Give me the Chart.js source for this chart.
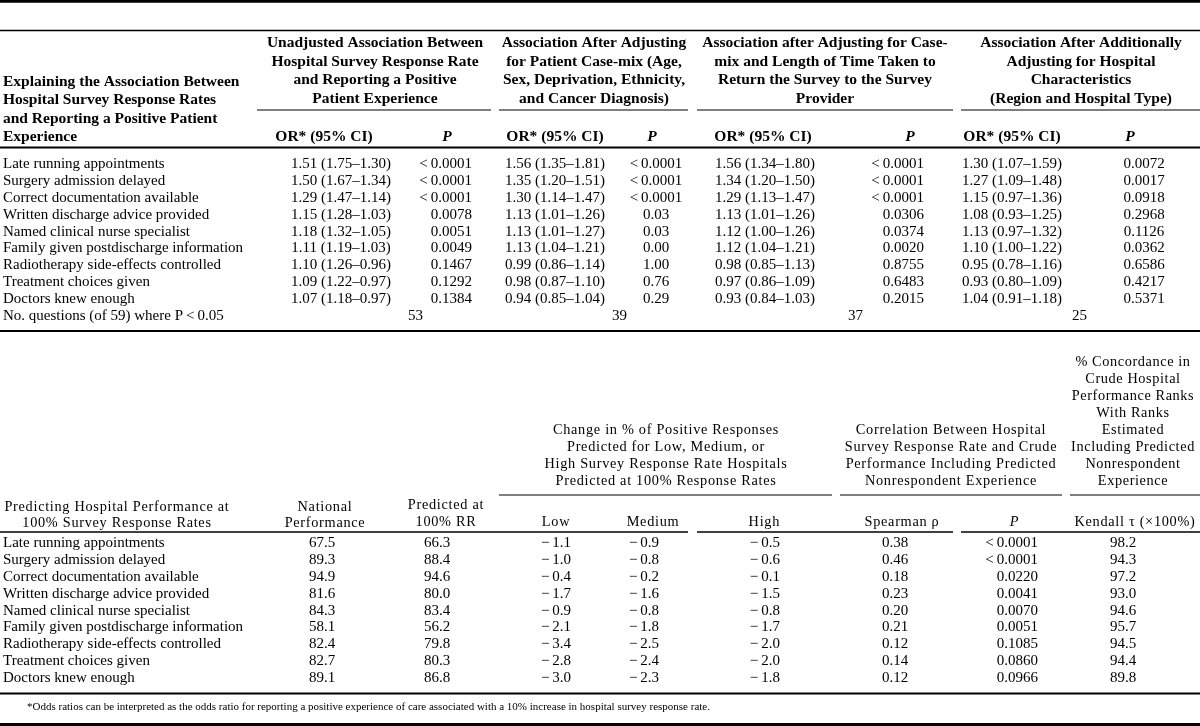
<!DOCTYPE html>
<html lang="en">
<head>
  <meta charset="UTF-8">
  <title>Hospital Survey Response Rates and Patient Experience</title>
  <style>
    body {
      margin: 0;
      background: #fff;
    }
    #table-container {
      width: 1200px;
      height: 726px;
    }
  </style>
</head>
<body>

<div id="table-container">
  <canvas id="tableChart" width="1200" height="726"></canvas>
</div>

<script src="https://cdn.jsdelivr.net/npm/chart.js@4"></script>
<script>
  // ---- top table: explaining the association ----
  const questions = [
    'Late running appointments',
    'Surgery admission delayed',
    'Correct documentation available',
    'Written discharge advice provided',
    'Named clinical nurse specialist',
    'Family given postdischarge information',
    'Radiotherapy side-effects controlled',
    'Treatment choices given',
    'Doctors knew enough'
  ];
  const orUnadjusted = ['1.51 (1.75–1.30)', '1.50 (1.67–1.34)', '1.29 (1.47–1.14)', '1.15 (1.28–1.03)', '1.18 (1.32–1.05)', '1.11 (1.19–1.03)', '1.10 (1.26–0.96)', '1.09 (1.22–0.97)', '1.07 (1.18–0.97)'];
  const pUnadjusted = ['<0.0001', '<0.0001', '<0.0001', '0.0078', '0.0051', '0.0049', '0.1467', '0.1292', '0.1384'];
  const orCaseMix = ['1.56 (1.35–1.81)', '1.35 (1.20–1.51)', '1.30 (1.14–1.47)', '1.13 (1.01–1.26)', '1.13 (1.01–1.27)', '1.13 (1.04–1.21)', '0.99 (0.86–1.14)', '0.98 (0.87–1.10)', '0.94 (0.85–1.04)'];
  const pCaseMix = ['<0.0001', '<0.0001', '<0.0001', '0.03', '0.03', '0.00', '1.00', '0.76', '0.29'];
  const orReturnTime = ['1.56 (1.34–1.80)', '1.34 (1.20–1.50)', '1.29 (1.13–1.47)', '1.13 (1.01–1.26)', '1.12 (1.00–1.26)', '1.12 (1.04–1.21)', '0.98 (0.85–1.13)', '0.97 (0.86–1.09)', '0.93 (0.84–1.03)'];
  const pReturnTime = ['<0.0001', '<0.0001', '<0.0001', '0.0306', '0.0374', '0.0020', '0.8755', '0.6483', '0.2015'];
  const orHospital = ['1.30 (1.07–1.59)', '1.27 (1.09–1.48)', '1.15 (0.97–1.36)', '1.08 (0.93–1.25)', '1.13 (0.97–1.32)', '1.10 (1.00–1.22)', '0.95 (0.78–1.16)', '0.93 (0.80–1.09)', '1.04 (0.91–1.18)'];
  const pHospital = ['0.0072', '0.0017', '0.0918', '0.2968', '0.1126', '0.0362', '0.6586', '0.4217', '0.5371'];
  const significantCounts = [53, 39, 37, 25];

  // ---- bottom table: predicting performance at 100% response ----
  const nationalPerf = [67.5, 89.3, 94.9, 81.6, 84.3, 58.1, 82.4, 82.7, 89.1];
  const predictedPerf = [66.3, 88.4, 94.6, 80.0, 83.4, 56.2, 79.8, 80.3, 86.8];
  const changeLow = [-1.1, -1.0, -0.4, -1.7, -0.9, -2.1, -3.4, -2.8, -3.0];
  const changeMedium = [-0.9, -0.8, -0.2, -1.6, -0.8, -1.8, -2.5, -2.4, -2.3];
  const changeHigh = [-0.5, -0.6, -0.1, -1.5, -0.8, -1.7, -2.0, -2.0, -1.8];
  const spearmanRho = [0.38, 0.46, 0.18, 0.23, 0.20, 0.21, 0.12, 0.14, 0.12];
  const spearmanP = ['<0.0001', '<0.0001', '0.0220', '0.0041', '0.0070', '0.0051', '0.1085', '0.0860', '0.0966'];
  const kendallTau = [98.2, 94.3, 97.2, 93.0, 94.6, 95.7, 94.5, 94.4, 89.8];

  // ---- layout (all in canvas-pixel units on the hidden linear scales) ----
  const SERIF = '"Liberation Serif", "Times New Roman", serif';
  const BODY = '15px ' + SERIF;
  const BOLD = 'bold 15.5px ' + SERIF;
  const LIGHT = '14.3px ' + SERIF;
  const topRowY = i => 164 + 16.9 * i;
  const bottomRowY = i => 543 + 16.9 * i;

  const fmt1 = v => (v < 0 ? '−\u2009' : '') + Math.abs(v).toFixed(1);
  const fmt2 = v => v.toFixed(2);
  const fmtP = s => s.replace('<', '<\u2009');

  const columns = [
    { text: questions, x: 3, align: 'left', row: topRowY },
    { text: orUnadjusted, x: 341, align: 'center', row: topRowY },
    { text: pUnadjusted.map(fmtP), x: 472, align: 'right', row: topRowY },
    { text: orCaseMix, x: 555, align: 'center', row: topRowY },
    { text: pCaseMix.map(fmtP), x: 656, align: 'center', row: topRowY },
    { text: orReturnTime, x: 765, align: 'center', row: topRowY },
    { text: pReturnTime.map(fmtP), x: 924, align: 'right', row: topRowY },
    { text: orHospital, x: 1012, align: 'center', row: topRowY },
    { text: pHospital, x: 1144, align: 'center', row: topRowY },
    { text: questions, x: 3, align: 'left', row: bottomRowY },
    { text: nationalPerf.map(fmt1), x: 322, align: 'center', row: bottomRowY },
    { text: predictedPerf.map(fmt1), x: 437, align: 'center', row: bottomRowY },
    { text: changeLow.map(fmt1), x: 556, align: 'center', row: bottomRowY },
    { text: changeMedium.map(fmt1), x: 644, align: 'center', row: bottomRowY },
    { text: changeHigh.map(fmt1), x: 780, align: 'right', row: bottomRowY },
    { text: spearmanRho.map(fmt2), x: 895, align: 'center', row: bottomRowY },
    { text: spearmanP.map(fmtP), x: 1038, align: 'right', row: bottomRowY },
    { text: kendallTau.map(fmt1), x: 1123, align: 'center', row: bottomRowY }
  ];
  const countX = [408, 612, 848, 1072];

  const block = (lines, x, y0, step, font, align, spacing) =>
    lines.map((t, i) => ({ t, x, y: y0 + step * i, font, align: align || 'center', spacing: spacing || 0 }));

  const headers = [
    ...block(['Explaining the Association Between', 'Hospital Survey Response Rates', 'and Reporting a Positive Patient', 'Experience'], 3, 82, 18.3, BOLD, 'left'),
    ...block(['Unadjusted Association Between', 'Hospital Survey Response Rate', 'and Reporting a Positive', 'Patient Experience'], 375, 43, 18.6, BOLD),
    ...block(['Association After Adjusting', 'for Patient Case-mix (Age,', 'Sex, Deprivation, Ethnicity,', 'and Cancer Diagnosis)'], 594, 43, 18.6, BOLD),
    ...block(['Association after Adjusting for Case-', 'mix and Length of Time Taken to', 'Return the Survey to the Survey', 'Provider'], 825, 43, 18.6, BOLD),
    ...block(['Association After Additionally', 'Adjusting for Hospital', 'Characteristics', '(Region and Hospital Type)'], 1081, 43, 18.6, BOLD),
    ...[324, 555, 763, 1012].map(x => ({ t: 'OR* (95% CI)', x, y: 137, font: BOLD, align: 'center', spacing: 0 })),
    ...[447, 652, 910, 1130].map(x => ({ t: 'P', x, y: 137, font: 'italic bold 15.5px ' + SERIF, align: 'center', spacing: 0 })),
    { t: 'No. questions (of 59) where P\u2009<\u20090.05', x: 3, y: topRowY(9), font: BODY, align: 'left', spacing: 0 },
    ...block(['% Concordance in', 'Crude Hospital', 'Performance Ranks', 'With Ranks', 'Estimated', 'Including Predicted', 'Nonrespondent', 'Experience'], 1133, 362, 17, LIGHT, 'center', 0.6),
    ...block(['Correlation Between Hospital', 'Survey Response Rate and Crude', 'Performance Including Predicted', 'Nonrespondent Experience'], 951, 430, 17, LIGHT, 'center', 0.7),
    ...block(['Change in % of Positive Responses', 'Predicted for Low, Medium, or', 'High Survey Response Rate Hospitals', 'Predicted at 100% Response Rates'], 666, 430, 17, LIGHT, 'center', 0.7),
    ...block(['Predicting Hospital Performance at', '100% Survey Response Rates'], 117, 507, 16.5, LIGHT, 'center', 0.7),
    ...block(['National', 'Performance'], 325, 507, 16.5, LIGHT, 'center', 0.7),
    ...block(['Predicted at', '100% RR'], 446, 505, 17, LIGHT, 'center', 0.7),
    { t: 'Low', x: 556, y: 522, font: LIGHT, align: 'center', spacing: 0.7 },
    { t: 'Medium', x: 653, y: 522, font: LIGHT, align: 'center', spacing: 0.7 },
    { t: 'High', x: 780, y: 522, font: LIGHT, align: 'right', spacing: 0.7 },
    { t: 'Spearman ρ', x: 902, y: 522, font: LIGHT, align: 'center', spacing: 0.7 },
    { t: 'P', x: 1014, y: 522, font: 'italic 14.3px ' + SERIF, align: 'center', spacing: 0 },
    { t: 'Kendall τ (×100%)', x: 1135, y: 522, font: LIGHT, align: 'center', spacing: 0.7 },
    { t: '*Odds ratios can be interpreted as the odds ratio for reporting a positive experience of care associated with a 10% increase in hospital survey response rate.', x: 27, y: 707, font: '11px ' + SERIF, align: 'left', spacing: 0 }
  ];

  const rules = [
    { y: 1.4, w: 2.8, seg: [[0, 1200]] },
    { y: 30.5, w: 1.6, seg: [[0, 1200]] },
    { y: 110, w: 1.2, seg: [[257, 491], [499, 688], [697, 953], [961, 1200]] },
    { y: 147.5, w: 1.8, seg: [[0, 1200]] },
    { y: 331, w: 2, seg: [[0, 1200]] },
    { y: 495, w: 1.2, seg: [[499, 832], [840, 1062], [1070, 1200]] },
    { y: 532, w: 1.5, seg: [[0, 688], [697, 953], [961, 1200]] },
    { y: 693.5, w: 2, seg: [[0, 1200]] },
    { y: 724.5, w: 3, seg: [[0, 1200]] }
  ];

  // every cell is a point on the hidden scales; its label is drawn at the point
  const datasets = columns.map((col, ci) => ({
    label: 'col' + ci,
    data: col.text.map((_, i) => ({ x: col.x, y: col.row(i) })),
    cellText: col.text,
    cellAlign: col.align,
    pointRadius: 0,
    showLine: false
  }));
  datasets.push({
    label: 'counts',
    data: significantCounts.map((_, i) => ({ x: countX[i], y: topRowY(9) })),
    cellText: significantCounts.map(String),
    cellAlign: 'left',
    pointRadius: 0,
    showLine: false
  });

  const tablePlugin = {
    id: 'tableText',
    afterDatasetsDraw(chart) {
      const ctx = chart.ctx;
      const xs = chart.scales.x, ys = chart.scales.y;
      ctx.save();
      ctx.fillStyle = '#000';
      ctx.strokeStyle = '#000';
      ctx.textBaseline = 'middle';

      chart.data.datasets.forEach((ds, di) => {
        const meta = chart.getDatasetMeta(di);
        ctx.font = BODY;
        ctx.textAlign = ds.cellAlign;
        meta.data.forEach((pt, i) => ctx.fillText(ds.cellText[i], pt.x, pt.y));
      });

      headers.forEach(h => {
        ctx.font = h.font;
        ctx.textAlign = h.align;
        ctx.letterSpacing = h.spacing + 'px';
        ctx.fillText(h.t, xs.getPixelForValue(h.x), ys.getPixelForValue(h.y));
      });
      ctx.letterSpacing = '0px';

      rules.forEach(r => {
        ctx.lineWidth = r.w;
        r.seg.forEach(([a, b]) => {
          ctx.beginPath();
          ctx.moveTo(xs.getPixelForValue(a), ys.getPixelForValue(r.y));
          ctx.lineTo(xs.getPixelForValue(b), ys.getPixelForValue(r.y));
          ctx.stroke();
        });
      });
      ctx.restore();
    }
  };

  const ctx = document.getElementById('tableChart').getContext('2d');
  const tableChart = new Chart(ctx, {
    type: 'scatter',
    data: { datasets },
    options: {
      responsive: false,
      animation: false,
      layout: { padding: 0 },
      scales: {
        x: { type: 'linear', min: 0, max: 1200, display: false },
        y: { type: 'linear', min: 0, max: 726, reverse: true, display: false }
      },
      plugins: {
        legend: { display: false },
        tooltip: { enabled: false }
      }
    },
    plugins: [tablePlugin]
  });
</script>

</body>
</html>
